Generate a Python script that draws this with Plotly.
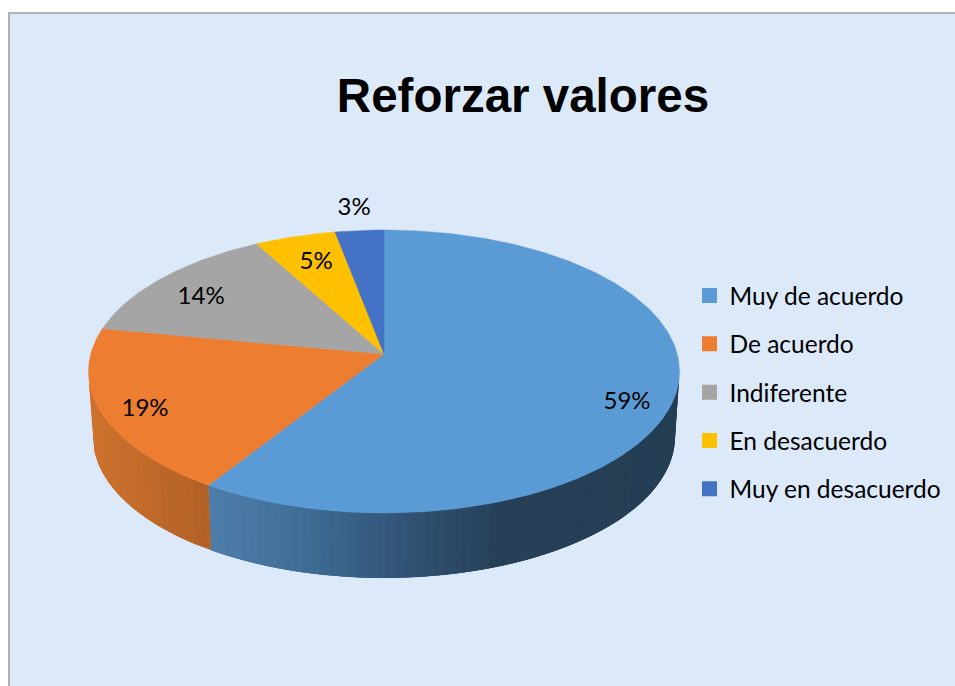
import numpy as np
import plotly.graph_objects as go

categories = ["Muy de acuerdo", "De acuerdo", "Indiferente", "En desacuerdo", "Muy en desacuerdo"]
values = [59, 19, 14, 5, 3]
colors = ["#5B9BD5", "#ED7D31", "#A5A5A5", "#FFC000", "#4472C4"]
title_text = "Reforzar valores"

# projection of the tilted disc, in canvas units
CX, CY = 384.0, 354.0
A, B, K = 293.2, 139.3, 0.1237
DEPTH = 65.0
BOTTOM_SCALE = 0.985
LABEL_R = [0.863, 0.866, 0.781, 0.754, 1.20]
LABEL_TURN_DEG = [6.8, -2.9, -3.2, 0.3, -0.2]
FONT = "Lato, Calibri, sans-serif"


def project(theta, r=1.0):
    u, v = r * np.sin(theta), r * np.cos(theta)
    s = 1 + K * v
    return CX + A * u / s, CY - B * v / s


def lerp_colour(x, stops):
    xs = [s[0] for s in stops]
    channels = [np.interp(x, xs, [s[1][i] for s in stops]) for i in range(3)]
    return "rgb(%d,%d,%d)" % tuple(int(round(c)) for c in channels)


WALL_BLUE = [(212, (76, 125, 170)), (300, (64, 110, 150)), (400, (50, 84, 118)), (500, (38, 64, 88)), (680, (36, 62, 84))]
WALL_ORANGE = [(90, (206, 114, 46)), (214, (176, 96, 38))]

total = sum(values)
edges = 2 * np.pi * np.cumsum([0] + values) / total

fig = go.Figure()

# side wall: visible from the right extreme, round the front, to the left extreme.
# Each strip runs under the next ones, so no seam shows between neighbours.
wall_start = np.arccos(-K)
wall_end = 2 * np.pi - wall_start
blue_steps = np.linspace(wall_start, edges[1], 71)
orange_steps = np.linspace(edges[1], wall_end, 31)
for steps, stops in ((blue_steps, WALL_BLUE), (orange_steps, WALL_ORANGE)):
    for i in range(len(steps) - 1):
        t0, t1 = steps[i], steps[min(i + 3, len(steps) - 1)]
        xm, _ = project((steps[i] + steps[i + 1]) / 2)
        col = lerp_colour(xm, stops)
        tt = np.linspace(t0, t1, 6)
        px, py = project(tt)
        bx = CX + (px - CX) * BOTTOM_SCALE
        fig.add_trace(go.Scatter(
            x=np.r_[px, bx[::-1]], y=np.r_[py, py[::-1] + DEPTH],
            mode="lines", fill="toself", fillcolor=col,
            line=dict(width=0), hoverinfo="skip", showlegend=False))

# top face slices
for i, name in enumerate(categories):
    tt = np.linspace(edges[i], edges[i + 1], max(int(values[i] * 4), 12))
    px, py = project(tt)
    fig.add_trace(go.Scatter(
        x=np.r_[CX, px, CX], y=np.r_[CY, py, CY],
        mode="lines", fill="toself", fillcolor=colors[i],
        line=dict(color=colors[i], width=0.5), name=name, hoverinfo="name", showlegend=False))

# percentage labels
mids = (edges[:-1] + edges[1:]) / 2 + np.radians(LABEL_TURN_DEG)
lx, ly = zip(*[project(m, r) for m, r in zip(mids, LABEL_R)])
fig.add_trace(go.Scatter(
    x=lx, y=ly, mode="text", text=[f"{v}%" for v in values],
    textposition="middle center", textfont=dict(family=FONT, size=24, color="#000000"),
    hoverinfo="skip", showlegend=False))

# legend
for name, col in zip(categories, colors):
    fig.add_trace(go.Scatter(
        x=[None], y=[None], mode="markers", name=name, legendgroup=name,
        marker=dict(symbol="square", size=15, color=col)))

fig.update_layout(
    width=955, height=686,
    margin=dict(l=0, r=0, t=0, b=0),
    paper_bgcolor="#FFFFFF", plot_bgcolor="rgba(0,0,0,0)",
    xaxis=dict(range=[0, 955], visible=False, fixedrange=True),
    yaxis=dict(range=[686, 0], visible=False, fixedrange=True),
    title=dict(text=title_text, x=523 / 955, y=1 - 95 / 686, xanchor="center", yanchor="middle",
               font=dict(family="Liberation Sans, Arial, sans-serif", size=47.5, color="#000000", weight="bold")),
    legend=dict(x=689.5 / 955, y=1 - 273 / 686, xanchor="left", yanchor="top",
                yref="paper", bgcolor="rgba(0,0,0,0)",
                font=dict(family=FONT, size=24.5, color="#000000"),
                tracegroupgap=13.5, itemwidth=30),
    shapes=[dict(type="rect", xref="x", yref="y", x0=9, y0=13, x1=960, y1=690,
                 fillcolor="#DCE9F8", line=dict(color="#9A9A9A", width=1.5), layer="below")],
)

fig.write_html("out.html", config={"displayModeBar": False},
               post_script="document.body.style.margin='0';")
